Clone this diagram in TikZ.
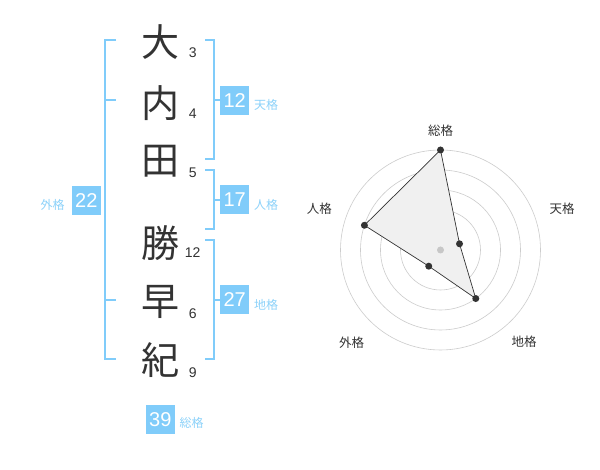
\documentclass[tikz,border=0pt]{standalone}
\usepackage{fontspec}
\setmainfont{Liberation Sans}
\newfontfamily\jp{Noto Sans CJK JP}
\definecolor{kblue}{RGB}{128,204,250}
\definecolor{klabel}{RGB}{140,210,250}
\definecolor{ink}{HTML}{333333}
\begin{document}
\begin{tikzpicture}[x=1pt,y=1pt,
  kanji/.style={font=\jp\fontsize{38}{38}\selectfont, text=ink, inner sep=0pt},
  strokes/.style={font=\fontsize{14}{14}\selectfont, text=ink, inner sep=0pt},
  numbox/.style={fill=kblue, text=white, minimum size=29pt, inner sep=0pt, font=\fontsize{20}{20}\selectfont},
  kaku/.style={font=\jp\fontsize{12}{12}\selectfont, text=klabel, inner sep=0pt},
  bracket/.style={draw=kblue, line width=2pt},
  ring/.style={draw=black!20, line width=0.6pt},
  axlabel/.style={font=\jp\fontsize{12.5}{12.5}\selectfont, text=ink, inner sep=0pt},
  vdot/.style={circle, fill=ink, minimum size=7pt, inner sep=0pt},
  cdot/.style={circle, fill=black!22, minimum size=7pt, inner sep=0pt}]
\useasboundingbox (0,0) rectangle (600,470);
\fill[white] (0,0) rectangle (600,470);

% characters
\node[kanji] (k1) at (160,428.3) {大};
\node[kanji] (k2) at (160,367) {内};
\node[kanji] (k3) at (160,308.3) {田};
\node[kanji] (k4) at (160,226.7) {勝};
\node[kanji] (k5) at (160,168.3) {早};
\node[kanji] (k6) at (160,110) {紀};

% stroke counts
\node[strokes] (s1) at (192.7,417.3) {3};
\node[strokes] (s2) at (192.7,356.7) {4};
\node[strokes] (s3) at (192.7,297.3) {5};
\node[strokes] (s4) at (192.7,217.7) {12};
\node[strokes] (s5) at (192.7,156.7) {6};
\node[strokes] (s6) at (192.7,97.3) {9};

% boxes
\node[numbox] (b12) at (234.7,369.7) {12};
\node[numbox] (b17) at (234.7,270) {17};
\node[numbox] (b27) at (234.7,170) {27};
\node[numbox] (b22) at (86.3,269.7) {22};
\node[numbox] (b39) at (160.3,50.7) {39};

\node[kaku] (lten) at (266,365.5) {天格};
\node[kaku] (ljin) at (266,265.5) {人格};
\node[kaku] (lchi) at (266,165.5) {地格};
\node[kaku] (lgai) at (52.7,265.5) {外格};
\node[kaku] (lsou) at (191.7,47.5) {総格};

% brackets
\draw[bracket] (116,430) -- (105,430) -- (105,110.7) -- (116,110.7);
\draw[bracket] (105,370) -- (116,370);
\draw[bracket] (105,170) -- (116,170);
\draw[bracket] (205,430) -- (214.3,430) -- (214.3,310.7) -- (205,310.7);
\draw[bracket] (214.3,369.7) -- (b12.west);
\draw[bracket] (205,300) -- (214.3,300) -- (214.3,240.7) -- (205,240.7);
\draw[bracket] (214.3,270) -- (b17.west);
\draw[bracket] (205,230) -- (214.3,230) -- (214.3,110.7) -- (205,110.7);
\draw[bracket] (214.3,170) -- (b27.west);

% radar chart
\coordinate (c) at (440.5,220);
\foreach \r in {20,40,60,80,100} \draw[ring] (c) circle (\r);
\coordinate (pS) at ([shift={(90:100)}]c);
\coordinate (pT) at ([shift={(18:20)}]c);
\coordinate (pC) at ([shift={(-54:60)}]c);
\coordinate (pG) at ([shift={(234:20)}]c);
\coordinate (pJ) at ([shift={(162:80)}]c);
\filldraw[fill=black!6, draw=ink, line width=0.7pt] (pS) -- (pT) -- (pC) -- (pG) -- (pJ) -- cycle;
\node[cdot] (cd) at (c) {};
\foreach \p in {pS,pT,pC,pG,pJ} \node[vdot] at (\p) {};

\node[axlabel] (aS) at (440.7,339.3) {総格};
\node[axlabel] (aT) at (562,261) {天格};
\node[axlabel] (aC) at (524,128.3) {地格};
\node[axlabel] (aG) at (351.7,127.7) {外格};
\node[axlabel] (aJ) at (319.3,261) {人格};
\end{tikzpicture}
\end{document}
